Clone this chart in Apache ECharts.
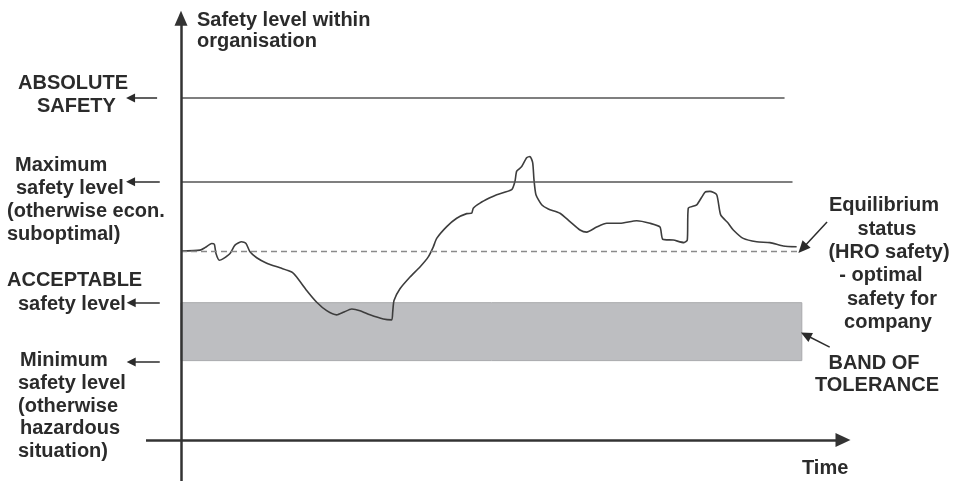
<!DOCTYPE html>
<html>
<head>
<meta charset="utf-8">
<script src="https://cdn.jsdelivr.net/npm/echarts/dist/echarts.min.js"></script>
<style>
  html, body { margin: 0; padding: 0; background: #ffffff; }
  #chart { width: 954px; height: 481px; }
</style>
</head>
<body>
<div id="chart"></div>
<script>
// ---- Data (arbitrary units: time 0..100, safety level 0..100) ----
const timeValues = [0, 2.86, 3.61, 4.62, 5.02, 5.27, 5.77, 6.37, 7.38, 8.13,
  9.14, 9.79, 10.39, 11.40, 12.91, 14.91, 16.67, 17.42, 18.93, 20.44,
  21.94, 23.45, 24.44, 25.71, 26.96, 28.46, 30.47, 31.73, 31.88, 32.08,
  32.98, 34.49, 35.99, 37.24, 38.00, 38.51, 40.02, 41.52, 43.03, 43.78,
  44.02, 45.03, 46.43, 47.55, 49.80, 50.30, 50.56, 51.31, 52.06, 52.56,
  52.97, 53.16, 53.46, 54.32, 55.32, 57.08, 58.58, 60.09, 61.10, 62.61,
  64.11, 66.11, 68.63, 70.63, 72.14, 72.55, 74.14, 75.75, 76.25, 76.40,
  77.67, 78.92, 79.67, 80.68, 81.28, 82.42, 83.18, 84.68, 86.70, 88.70,
  90.71, 92.72];
const safetyValues = [45.0, 45.2, 45.8, 46.8, 46.6, 44.4, 42.8, 43.2, 44.4, 46.4,
  47.2, 46.8, 44.8, 43.4, 42.1, 41.0, 40.0, 38.8, 35.6, 32.8,
  30.8, 29.8, 30.4, 31.2, 30.8, 29.8, 28.8, 28.6, 30.4, 33.2,
  36.0, 38.8, 41.2, 43.6, 46.0, 48.0, 50.8, 52.8, 53.9, 54.0,
  55.2, 56.4, 57.6, 58.4, 59.6, 61.6, 64.0, 65.1, 67.2, 67.5,
  66.0, 62.0, 58.4, 56.0, 55.0, 54.0, 52.0, 50.0, 49.5, 50.7,
  51.6, 51.6, 52.2, 51.6, 50.7, 47.8, 47.6, 47.0, 47.6, 55.2,
  56.0, 59.0, 59.2, 58.4, 53.6, 51.6, 50.0, 48.0, 47.2, 47.0,
  46.2, 46.0];

// Reference levels
const levelNames = ['ABSOLUTE SAFETY', 'Maximum safety level', 'Equilibrium status', 'ACCEPTABLE safety level', 'Minimum safety level'];
const levelValues = [81.4, 61.5, 45.0, 32.7, 18.9];
const levelEnds = [90.9, 92.1, 92.9, 93.5, 93.5];

// Axis ranges (full canvas)
const X_MIN = -27.26, X_MAX = 116.42;
const Y_MIN = -9.76, Y_MAX = 104.76;

// Text labels
const leftLabels = [
  ['ABSOLUTE', 18, 83], ['SAFETY', 37, 106],
  ['Maximum', 15, 165], ['safety level', 16, 188], ['(otherwise econ.', 7, 211], ['suboptimal)', 7, 234],
  ['ACCEPTABLE', 7, 280], ['safety level', 18, 304],
  ['Minimum', 20, 360], ['safety level', 18, 383], ['(otherwise', 18, 406], ['hazardous', 20, 428], ['situation)', 18, 451],
  ['Safety level within', 197, 20], ['organisation', 197, 41.5],
  ['Time', 802, 468]
];
const rightLabels = [
  ['Equilibrium', 884, 205], ['status', 887, 229], ['(HRO safety)', 889, 252],
  ['- optimal', 881, 275], ['safety for', 892, 299], ['company', 888, 322],
  ['BAND OF', 874, 363], ['TOLERANCE', 877, 385]
];

const FONT = 'bold 20px "Liberation Sans", Arial, sans-serif';
const TXT = '#2b2b2b';

const graphics = [];
leftLabels.forEach(function (l) {
  graphics.push({ type: 'text', x: l[1], y: l[2], silent: true,
    style: { text: l[0], font: FONT, fill: TXT, align: 'left', verticalAlign: 'middle' } });
});
rightLabels.forEach(function (l) {
  graphics.push({ type: 'text', x: l[1], y: l[2], silent: true,
    style: { text: l[0], font: FONT, fill: TXT, align: 'center', verticalAlign: 'middle' } });
});

function seg(x1, y1, x2, y2, style, endSymbol, endSize) {
  return [
    { coord: [x1, y1], symbol: 'none', lineStyle: style },
    { coord: [x2, y2], symbol: endSymbol || 'none', symbolSize: endSize || 0 }
  ];
}

const solidLevel = { color: '#555', width: 1.5, type: 'solid' };
const dashedLevel = { color: '#8a8a8a', width: 1.3, type: [6, 4] };
const axisStyle = { color: '#333', width: 2.5, type: 'solid' };
const arrowStyle = { color: '#2b2b2b', width: 1.5, type: 'solid' };

const chart = echarts.init(document.getElementById('chart'), null, { renderer: 'canvas' });
chart.setOption({
  animation: false,
  backgroundColor: '#ffffff',
  grid: { left: 0, right: 0, top: 0, bottom: 0 },
  xAxis: { type: 'value', min: X_MIN, max: X_MAX, show: false },
  yAxis: { type: 'value', min: Y_MIN, max: Y_MAX, show: false },
  graphic: graphics,
  series: [
    {
      name: 'band', type: 'line', data: [], z: 1, silent: true,
      markArea: {
        silent: true,
        itemStyle: { color: '#bdbec1', borderColor: '#a9aaad', borderWidth: 1 },
        label: { show: false },
        data: [[{ coord: [0, levelValues[3]] }, { coord: [levelEnds[3], levelValues[4]] }]]
      }
    },
    {
      name: 'levels', type: 'line', data: [], z: 2, silent: true,
      markLine: {
        silent: true, symbol: 'none', label: { show: false },
        data: [
          seg(0, levelValues[0], levelEnds[0], levelValues[0], solidLevel),
          seg(0, levelValues[1], levelEnds[1], levelValues[1], solidLevel),
          seg(0, levelValues[2], levelEnds[2], levelValues[2], dashedLevel)
        ]
      }
    },
    {
      name: 'Safety level', type: 'line', z: 3, silent: true,
      data: timeValues.map(function (t, i) { return [t, safetyValues[i]]; }),
      showSymbol: false, symbol: 'none', smooth: 0.2,
      lineStyle: { color: '#3d3d3d', width: 1.6 }
    },
    {
      name: 'axes', type: 'line', data: [], z: 4, silent: true,
      markLine: {
        silent: true, symbol: 'none', label: { show: false },
        data: [
          seg(-5.27, 0, 99.7, 0, axisStyle, 'triangle', [14, 15]),
          seg(0, Y_MIN, 0, 100.4, axisStyle, 'triangle', [13, 15]),
          seg(-3.6, levelValues[0], -7.6, levelValues[0], arrowStyle, 'triangle', [9, 9]),
          seg(-3.2, levelValues[1], -7.6, levelValues[1], arrowStyle, 'triangle', [9, 9]),
          seg(-3.2, levelValues[3], -7.5, levelValues[3], arrowStyle, 'triangle', [9, 9]),
          seg(-3.2, 18.6, -7.5, 18.6, arrowStyle, 'triangle', [9, 9]),
          seg(97.3, 51.9, 93.6, 45.6, arrowStyle, 'triangle', [11, 12]),
          seg(97.7, 22.1, 94.1, 25.0, arrowStyle, 'triangle', [10, 11])
        ]
      }
    }
  ]
});
</script>
</body>
</html>
